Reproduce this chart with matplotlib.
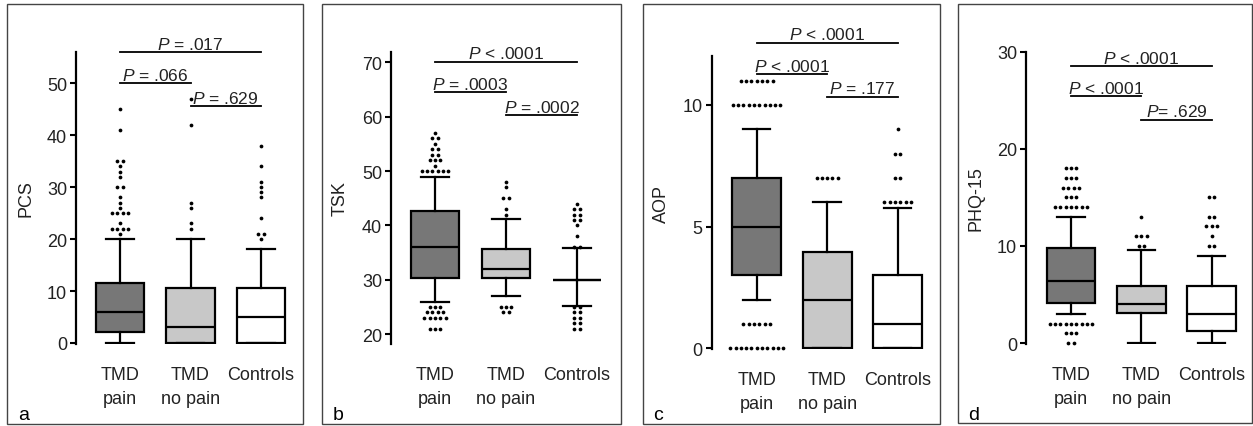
import numpy as np
import matplotlib
matplotlib.use('Agg')
import matplotlib.pyplot as plt
from matplotlib.patches import Rectangle

plt.rcParams['font.family'] = 'Liberation Sans'
plt.rcParams['mathtext.fontset'] = 'custom'
plt.rcParams['mathtext.it'] = 'Liberation Sans:italic'
plt.rcParams['mathtext.rm'] = 'Liberation Sans'

groups = ['TMD\npain', 'TMD\nno pain', 'Controls']
box_colors = ['#777777', '#c8c8c8', '#ffffff']

# PCS
pcs_whislo = [0, 0, 0]
pcs_q1 = [2.2, 0, 0]
pcs_med = [6, 3, 5]
pcs_q3 = [11.6, 10.6, 10.6]
pcs_whishi = [20, 20, 18]
pcs_out = [[(45, 1), (41, 1), (35, 2), (34, 1), (33, 1), (32, 1), (30, 2), (28, 1), (27, 1),
            (26, 1), (25, 4), (23, 1), (22, 4), (21, 1)],
           [(47, 1), (42, 1), (27, 1), (26, 1), (23, 1), (22, 1)],
           [(38, 1), (34, 1), (31, 1), (30, 1), (29, 1), (28, 1), (24, 1), (21, 2), (20, 1)]]
pcs_p = ['$\\it{P}$ = .017', '$\\it{P}$ = .066', '$\\it{P}$ = .629']
pcs_ph = [56, 50, 45.6]

# TSK
tsk_whislo = [26, 27, 25.2]
tsk_q1 = [30.3, 30.25, 30]
tsk_med = [36, 32, 30]
tsk_q3 = [42.7, 35.7, 30]
tsk_whishi = [49, 41.1, 35.8]
tsk_out = [[(57, 1), (56, 2), (55, 1), (54, 2), (53, 2), (52, 3), (51, 1), (50, 6),
            (25, 3), (24, 4), (23, 5), (21, 3)],
           [(48, 1), (47, 1), (45, 2), (43, 1), (42, 1), (25, 3), (24, 2)],
           [(44, 1), (43, 2), (42, 2), (41, 2), (40, 1), (38, 1), (36, 2),
            (25, 2), (24, 2), (23, 2), (22, 2), (21, 2)]]
tsk_p = ['$\\it{P}$ < .0001', '$\\it{P}$ = .0003', '$\\it{P}$ = .0002']
tsk_ph = [70.1, 64.5, 60.3]

# AOP
aop_whislo = [2, 0, 0]
aop_q1 = [3, 0, 0]
aop_med = [5, 2, 1]
aop_q3 = [7, 3.95, 3]
aop_whishi = [9, 6, 5.77]
aop_out = [[(11, 7), (10, 10), (1, 6), (0, 11)],
           [(7, 5)],
           [(9, 1), (8, 2), (7, 2), (6, 6)]]
aop_p = ['$\\it{P}$ < .0001', '$\\it{P}$ < .0001', '$\\it{P}$ = .177']
aop_ph = [12.55, 11.26, 10.34]

# PHQ-15
phq_whislo = [3, 0, 0]
phq_q1 = [4.1, 3.1, 1.2]
phq_med = [6.4, 4, 3]
phq_q3 = [9.8, 5.85, 5.85]
phq_whishi = [13, 9.55, 9]
phq_out = [[(18, 3), (17, 3), (16, 4), (15, 3), (14, 7), (2, 9), (1, 3), (0, 2)],
           [(13, 1), (11, 3), (10, 2)],
           [(15, 2), (13, 2), (12, 3), (11, 1), (10, 2)]]
phq_p = ['$\\it{P}$ < .0001', '$\\it{P}$ < .0001', '$\\it{P}$= .629']
phq_ph = [28.5, 25.4, 23.0]

pairs = [(1, 3), (1, 2), (2, 3)]

W, H = 1253, 427
fig = plt.figure(figsize=(W / 100, H / 100), dpi=100)

# layout in pixels: frame, spine x, first centre x, spacing, ylim, axes bottom/top px, letter pos
layout = [
    dict(frame=(7, 5, 303, 425), spine=76, c1=120, sp=70.5, ylim=(-0.2, 56.0), py=(345, 53),
         ticks=[0, 10, 20, 30, 40, 50], letter=(18, 420)),
    dict(frame=(322, 5, 621, 425), spine=391, c1=435, sp=71, ylim=(18.2, 71.9), py=(345, 53),
         ticks=[20, 30, 40, 50, 60, 70], letter=(333, 420)),
    dict(frame=(643, 5, 940, 425), spine=711.7, c1=756.7, sp=70.5, ylim=(-0.03, 12.0), py=(350, 57.3),
         ticks=[0, 5, 10], letter=(653, 420)),
    dict(frame=(958, 5, 1252, 424), spine=1026, c1=1071, sp=70.3, ylim=(-0.1, 30), py=(345, 52.7),
         ticks=[0, 10, 20, 30], letter=(968, 420)),
]

panels = [
    ('PCS', 'a', pcs_whislo, pcs_q1, pcs_med, pcs_q3, pcs_whishi, pcs_out, pcs_p, pcs_ph),
    ('TSK', 'b', tsk_whislo, tsk_q1, tsk_med, tsk_q3, tsk_whishi, tsk_out, tsk_p, tsk_ph),
    ('AOP', 'c', aop_whislo, aop_q1, aop_med, aop_q3, aop_whishi, aop_out, aop_p, aop_ph),
    ('PHQ-15', 'd', phq_whislo, phq_q1, phq_med, phq_q3, phq_whishi, phq_out, phq_p, phq_ph),
]

lw = 1.6
for (name, letter, wlo, q1, med, q3, whi, outs, ptxt, ph), L in zip(panels, layout):
    fx0, fy0, fx1, fy1 = L['frame']
    fig.patches.append(Rectangle((fx0 / W, 1 - fy1 / H), (fx1 - fx0) / W, (fy1 - fy0) / H,
                                 transform=fig.transFigure, fill=False, lw=1.0, ec='#444444'))
    fig.text(L['letter'][0] / W, 1 - L['letter'][1] / H, letter, fontsize=14, va='baseline')

    x0 = 1 + (L['spine'] - L['c1']) / L['sp']
    xr = 3.55
    axw = (xr - x0) * L['sp']
    ax = fig.add_axes([L['spine'] / W, 1 - L['py'][0] / H, axw / W, (L['py'][0] - L['py'][1]) / H])
    ax.set_xlim(x0, xr)
    ax.set_ylim(*L['ylim'])
    ax.patch.set_visible(False)

    stats = [dict(whislo=wlo[i], q1=q1[i], med=med[i], q3=q3[i], whishi=whi[i], fliers=[])
             for i in range(3)]
    bp = ax.bxp(stats, positions=[1, 2, 3], widths=0.69, capwidths=0.39, patch_artist=True,
                showfliers=False,
                boxprops=dict(lw=lw, edgecolor='black'),
                medianprops=dict(color='black', lw=lw),
                whiskerprops=dict(color='black', lw=lw),
                capprops=dict(color='black', lw=lw))
    for box, c in zip(bp['boxes'], box_colors):
        box.set_facecolor(c)

    for i, rows in enumerate(outs):
        for val, n in rows:
            xs = i + 1 + (np.arange(n) - (n - 1) / 2) * 0.075
            ax.plot(xs, [val] * n, 'o', ms=2.7, color='black', mew=0, clip_on=False, zorder=4)

    for (p1, p2), h, t in zip(pairs, ph, ptxt):
        ax.plot([p1, p2], [h, h], color='black', lw=1.3, clip_on=False)
        ax.annotate(t, xy=((p1 + p2) / 2, h), xytext=(0, 2.5), textcoords='offset points',
                    ha='center', va='baseline', fontsize=12.5, color='#222222',
                    annotation_clip=False)

    for s in ['top', 'right', 'bottom']:
        ax.spines[s].set_visible(False)
    ax.spines['left'].set_linewidth(lw)
    ax.set_yticks(L['ticks'])
    ax.tick_params(axis='y', length=4.5, width=1.5, labelsize=13, pad=2, labelcolor='#222222')
    ax.set_xticks([1, 2, 3], groups)
    ax.tick_params(axis='x', length=0, labelsize=13, pad=16, labelcolor='#222222')
    for lab in ax.get_xticklabels():
        lab.set_linespacing(1.55)
    ax.set_ylabel(name, fontsize=13, color='#222222')
    ax.yaxis.set_label_coords(-42 / axw, 0.5)

fig.savefig('out.png', dpi=100)
